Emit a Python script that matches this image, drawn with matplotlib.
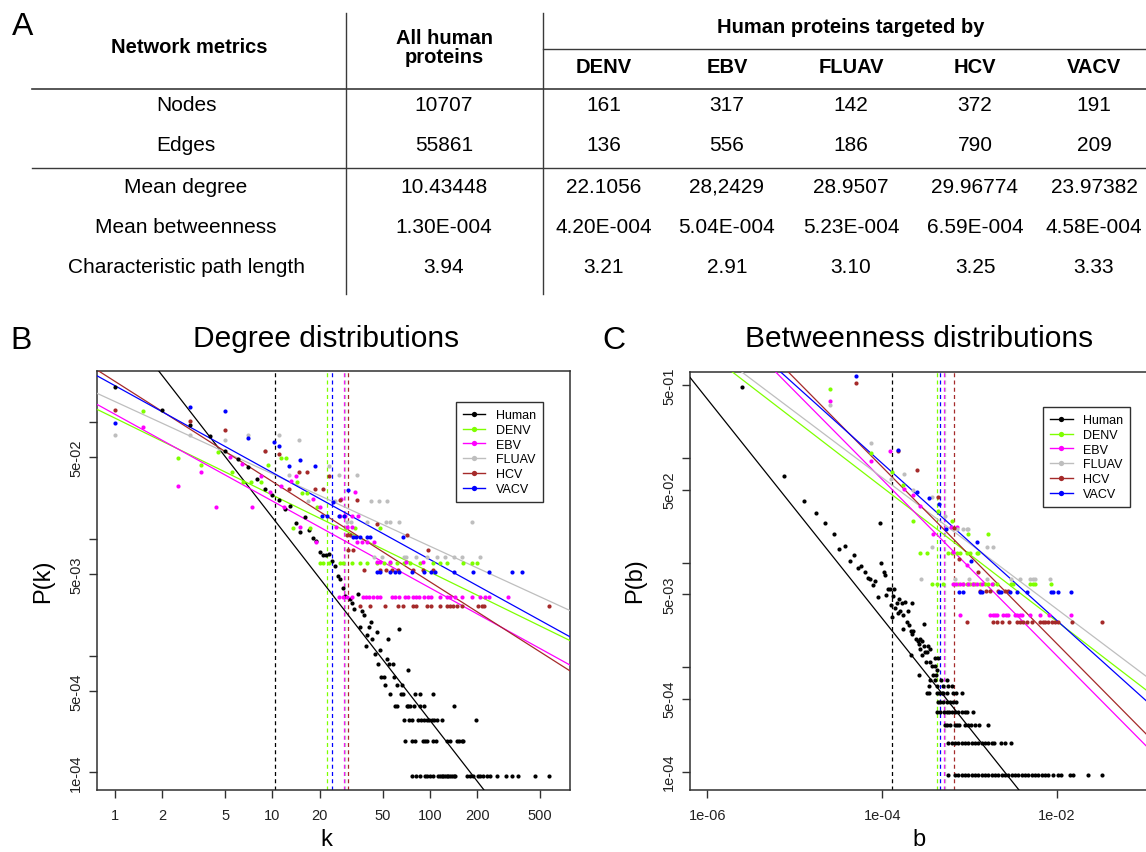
import numpy as np
import matplotlib
matplotlib.use("Agg")
import matplotlib.pyplot as plt
from matplotlib.lines import Line2D
from matplotlib.ticker import NullLocator

plt.rcParams['font.family'] = ['Liberation Sans', 'DejaVu Sans']

W, H = 1146, 853

# ------------------------------------------------------------------ table (A)
metric_names = ["Nodes", "Edges", "Mean degree", "Mean betweenness",
                "Characteristic path length"]
all_human_col = ["10707", "55861", "10.43448", "1.30E-004", "3.94"]
virus_names = ["DENV", "EBV", "FLUAV", "HCV", "VACV"]
denv_col = ["161", "136", "22.1056", "4.20E-004", "3.21"]
ebv_col = ["317", "556", "28,2429", "5.04E-004", "2.91"]
fluav_col = ["142", "186", "28.9507", "5.23E-004", "3.10"]
hcv_col = ["372", "790", "29.96774", "6.59E-004", "3.25"]
vacv_col = ["191", "209", "23.97382", "4.58E-004", "3.33"]

# ------------------------------------------------------------ distributions
series_names = ["Human", "DENV", "EBV", "FLUAV", "HCV", "VACV"]
series_colors = ["#000000", "#7FFF00", "#FF00FF", "#BEBEBE", "#A52A2A", "#0000FF"]
node_counts = [10707, 161, 317, 142, 372, 191]
mean_degree = [10.43448, 22.1056, 28.2429, 28.9507, 29.96774, 23.97382]
mean_betweenness = [1.30e-4, 4.20e-4, 5.04e-4, 5.23e-4, 6.59e-4, 4.58e-4]

# power-law fits: log10(P) = icpt + slope * log10(x)
deg_fit_slope = [-1.739, -0.660, -0.744, -0.620, -0.859, -0.745]
deg_fit_icpt = [-0.077, -0.964, -0.931, -0.822, -0.649, -0.686]
bet_fit_slope = [-1.050, -0.6435, -0.845, -0.630, -0.847, -0.753]
bet_fit_icpt = [-6.735, -3.851, -4.584, -3.706, -4.472, -4.061]

# degree points: (k, number of proteins) ; rows: {number: [k, ...]}
deg_human_pts = [(1, 2160), (2, 1363), (3, 1015), (4, 818), (5, 612), (6, 516), (7, 440),
                 (8, 350), (9, 287), (10, 255), (11, 231), (12, 194), (13, 206), (14, 148),
                 (15, 124), (16, 164), (17, 129), (18, 109), (19, 103), (20, 83), (21, 78),
                 (22, 78), (23, 80), (24, 69), (25, 63), (26, 52), (27, 49), (28, 41),
                 (29, 35), (31, 33), (32, 30), (33, 27), (35, 36), (36, 19), (37, 26),
                 (38, 24), (39, 13), (40, 16), (41, 19), (42, 21), (43, 15), (45, 11),
                 (46, 17), (47, 9), (48, 12), (49, 7), (51, 7), (53, 10), (54, 15), (55, 9),
                 (58, 9), (59, 7), (64, 18), (72, 8)]
deg_human_rows = {
    6: [52, 62, 66],
    5: [56, 65, 67, 80, 87, 104],
    4: [60, 62, 71, 73, 75, 79, 87, 91, 143],
    3: [68, 74, 77, 84, 88, 91, 96, 99, 103, 106, 110, 119, 195],
    2: [69, 77, 80, 90, 93, 96, 104, 109, 128, 133, 148, 153, 159, 163],
    1: [77, 82, 87, 93, 96, 100, 104, 113, 116, 119, 121, 125, 128, 131, 134, 137, 141,
        144, 171, 180, 187, 201, 208, 216, 229, 240, 267, 304, 330, 360, 461, 572],
}
deg_denv_pts = [(1.5, 20), (2.5, 8), (3.5, 7), (4.5, 9), (5.5, 6), (6.5, 5), (7.3, 5),
                (8.4, 5), (9.3, 7), (11.3, 8), (12.2, 8), (14.3, 5), (13.4, 2), (15.5, 4),
                (16.5, 4), (17.2, 2), (19.3, 3)]
deg_denv_rows = {
    2: [29.5, 33.5, 48],
    1: [20, 21, 23, 27, 28, 32, 36, 40, 46, 51, 56, 62, 68, 75, 86, 104, 115, 128, 161,
        184, 198],
}
deg_ebv_pts = [(1.5, 29), (2.5, 9), (3.5, 12), (4.4, 6), (5.4, 16), (6.4, 14), (7.4, 6),
               (8.4, 11), (9.6, 8), (11.3, 9), (11.8, 6), (13.2, 10), (14.1, 11), (14.9, 4),
               (18.1, 7), (20, 6), (18.9, 3), (25.3, 4), (27.2, 7), (33.5, 8)]
deg_ebv_rows = {
    5: [26.8, 28.9, 31.8, 35],
    4: [29.6, 31.8],
    3: [34.2, 36.8, 40, 44],
    2: [45.9, 48.2, 55.7, 70.4, 90.7],
    1: [26.6, 28.2, 29.6, 31.8, 37.4, 39.3, 41.2, 43.3, 45.9, 48.2, 57.1, 60, 63.8, 69.4,
        72.8, 77.6, 81.5, 85.5, 91.6, 97.5, 102, 116, 128, 134, 144, 159, 184, 208, 223,
        238, 315],
}
deg_fluav_pts = [(1, 11), (3, 11), (5, 10), (7, 11), (9, 8), (11, 11), (12.8, 5),
                 (14.8, 10), (16.9, 3), (22.7, 6), (24.9, 3), (26.6, 5), (34.5, 5)]
deg_fluav_rows = {
    3: [42, 47.7, 53.6],
    2: [29.6, 31.4, 39.6, 52.6, 55.7, 63.6, 184],
    1: [44, 49.3, 68.4, 70.4, 81.5, 95.3, 110, 125, 141, 159, 208],
}
deg_hcv_pts = [(1, 47), (3, 38), (5, 32), (9, 21), (11, 20), (12.7, 10), (14.8, 14),
               (16.6, 14), (18.6, 10), (20.8, 10), (22.9, 13), (26.8, 8), (34.6, 8), (46, 5)]
deg_hcv_rows = {
    4: [29.6, 31.2, 71],
    3: [30.3, 32.4, 97.8],
    2: [38.2, 48.2, 52.9, 57.1, 63, 78.3, 90.8, 105],
    1: [35.9, 41.6, 51.8, 62.9, 67.1, 78.3, 81.5, 95.3, 102, 115, 128, 134, 140.6, 148,
        159, 203, 213, 220, 572],
}
deg_vacv_pts = [(1, 19), (3, 26), (5, 24), (7, 14), (10.2, 13), (11, 12), (12.8, 8),
                (15, 9), (18.6, 8), (24.3, 4), (30.3, 5)]
deg_vacv_rows = {
    3: [20.5, 22.1, 26.6, 28.3],
    2: [32.3, 33.8, 35.9, 40, 41.7, 67.8],
    1: [46, 48, 56, 60, 64, 77, 91, 102, 108, 141, 188, 238, 332, 381],
}

# betweenness points: (b, number of proteins) ; rows: {number: [b, ...]}
bet_human_pts = [(2.50e-6, 5195), (7.45e-6, 724), (1.26e-5, 418), (1.74e-5, 323),
                 (2.23e-5, 257), (2.78e-5, 200), (3.22e-5, 144), (3.72e-5, 155),
                 (4.24e-5, 111), (4.71e-5, 126), (5.24e-5, 96), (5.75e-5, 99),
                 (6.30e-5, 87), (6.81e-5, 77), (7.29e-5, 74), (8.18e-5, 72), (7.76e-5, 65),
                 (9.33e-5, 259), (9.75e-5, 106), (1.04e-4, 87), (1.08e-4, 82),
                 (1.16e-4, 60), (1.24e-4, 60), (1.37e-4, 60), (8.85e-5, 50), (1.11e-4, 53),
                 (1.32e-4, 51), (1.57e-4, 48), (1.25e-4, 42), (1.46e-4, 44), (1.67e-4, 44),
                 (1.82e-4, 45), (2.17e-4, 44), (1.40e-4, 39), (1.60e-4, 37), (1.99e-4, 37),
                 (1.28e-4, 32), (1.52e-4, 35), (1.74e-4, 34), (1.90e-4, 29), (2.04e-4, 27),
                 (3.00e-4, 28), (1.74e-4, 25), (2.11e-4, 24), (2.26e-4, 24), (2.17e-4, 22),
                 (2.43e-4, 20), (2.58e-4, 19), (2.70e-4, 20), (2.63e-4, 18), (2.82e-4, 19),
                 (3.00e-4, 17), (3.36e-4, 17), (2.70e-4, 16), (3.08e-4, 15), (3.52e-4, 16),
                 (2.82e-4, 14), (3.22e-4, 15), (2.11e-4, 14), (3.16e-4, 12), (3.52e-4, 12),
                 (4.01e-4, 13), (4.38e-4, 13), (3.67e-4, 11), (4.01e-4, 11), (4.26e-4, 10),
                 (2.63e-4, 9), (3.84e-4, 9), (4.11e-4, 9)]
bet_human_rows = {
    8: [3.52e-4, 4.01e-4, 4.66e-4, 5.46e-4],
    7: [3.45e-4, 4.26e-4, 4.99e-4, 5.69e-4, 6.22e-4],
    6: [3.22e-4, 3.45e-4, 4.19e-4, 4.49e-4, 4.79e-4, 4.99e-4, 5.55e-4, 6.49e-4, 6.97e-4,
        8.09e-4],
    5: [4.38e-4, 4.57e-4, 4.99e-4, 5.46e-4, 5.96e-4, 6.49e-4, 6.97e-4],
    4: [4.26e-4, 4.57e-4, 5.08e-4, 5.46e-4, 5.85e-4, 6.22e-4, 6.79e-4, 7.41e-4, 8.09e-4,
        8.83e-4, 9.40e-4, 1.08e-3],
    3: [5.21e-4, 5.55e-4, 5.96e-4, 6.79e-4, 7.21e-4, 7.60e-4, 8.83e-4, 9.64e-4, 1.03e-3,
        1.15e-3, 1.29e-3, 1.61e-3],
    2: [5.69e-4, 6.22e-4, 6.79e-4, 7.41e-4, 8.09e-4, 8.83e-4, 9.64e-4, 1.05e-3, 1.15e-3,
        1.25e-3, 1.37e-3, 1.50e-3, 1.63e-3, 1.79e-3, 1.90e-3, 2.26e-3, 2.54e-3, 2.94e-3],
    1: [5.69e-4, 6.79e-4, 7.41e-4, 8.09e-4, 8.83e-4, 9.64e-4, 1.05e-3, 1.15e-3, 1.25e-3,
        1.37e-3, 1.50e-3, 1.63e-3, 1.79e-3, 1.95e-3, 2.12e-3, 2.32e-3, 2.54e-3, 2.77e-3,
        3.03e-3, 3.30e-3, 3.60e-3, 3.94e-3, 4.30e-3, 4.68e-3, 5.12e-3, 5.58e-3, 6.10e-3,
        6.67e-3, 7.28e-3, 7.93e-3, 9.06e-3, 1.03e-2, 1.10e-2, 1.41e-2, 1.53e-2, 2.28e-2,
        3.29e-2],
}
bet_denv_pts = [(2.50e-5, 75), (7.48e-5, 18), (1.28e-4, 12), (1.73e-4, 9), (2.24e-4, 4),
                (4.38e-4, 5), (6.22e-4, 4)]
bet_denv_rows = {
    3: [9.5e-4, 1.6e-3],
    2: [2.70e-4, 3.22e-4, 5.69e-4, 6.22e-4, 7.21e-4, 7.74e-4, 9.25e-4, 1.01e-3, 1.20e-3,
        1.25e-3],
    1: [3.67e-4, 4.19e-4, 4.99e-4, 6.61e-4, 7.41e-4, 8.32e-4, 9.40e-4, 1.01e-3, 1.08e-3,
        1.15e-3, 1.31e-3, 1.50e-3, 1.63e-3, 1.86e-3, 2.04e-3, 2.94e-3, 3.16e-3, 4.90e-3,
        5.35e-3, 5.58e-3, 8.45e-3],
}
bet_ebv_pts = [(2.50e-5, 112), (7.48e-5, 30), (1.24e-4, 37), (1.76e-4, 16), (2.24e-4, 14),
               (2.72e-4, 11), (3.84e-4, 6), (6.07e-4, 7), (7.21e-4, 7), (6.49e-4, 4),
               (9.25e-4, 3)]
bet_ebv_rows = {
    2: [6.38e-4, 6.97e-4, 7.74e-4, 8.45e-4, 9.64e-4, 1.10e-3, 1.22e-3, 1.37e-3, 1.79e-3],
    1: [7.74e-4, 1.71e-3, 1.83e-3, 1.95e-3, 2.07e-3, 2.42e-3, 2.60e-3, 2.77e-3, 3.30e-3,
        3.51e-3, 3.77e-3, 3.94e-3, 4.90e-3, 6.37e-3, 8.15e-3, 1.43e-2],
}
bet_fluav_pts = [(2.50e-5, 46), (7.48e-5, 20), (1.27e-4, 9), (1.76e-4, 10), (2.24e-4, 7),
                 (3.67e-4, 6), (5.21e-4, 4)]
bet_fluav_rows = {
    3: [7.21e-4, 8.32e-4, 9.25e-4, 9.64e-4],
    2: [3.67e-4, 1.56e-3, 1.83e-3],
    1: [2.75e-4, 6.79e-4, 9.89e-4, 1.59e-3, 2.94e-3, 3.77e-3, 4.90e-3, 5.26e-3, 5.58e-3,
        8.30e-3],
}
bet_hcv_pts = [(5.0e-5, 197), (1.50e-4, 44), (2.49e-4, 29), (4.38e-4, 16), (6.61e-4, 8),
               (7.55e-4, 4), (1.25e-3, 3)]
bet_hcv_rows = {
    2: [1.31e-3, 1.53e-3, 1.71e-3, 2.12e-3, 2.54e-3, 2.77e-3],
    1: [9.40e-4, 1.83e-3, 2.04e-3, 2.32e-3, 2.84e-3, 3.45e-3, 3.77e-3, 4.10e-3, 4.49e-3,
        5.12e-3, 6.37e-3, 6.84e-3, 7.28e-3, 7.93e-3, 8.67e-3, 9.46e-3, 1.03e-2, 1.47e-2,
        3.29e-2],
}
bet_vacv_pts = [(5.0e-5, 117), (1.50e-4, 23), (2.49e-4, 9), (3.45e-4, 8), (4.49e-4, 7),
                (5.36e-4, 4), (1.22e-3, 3), (1.03e-3, 2)]
bet_vacv_rows = {
    1: [7.55e-4, 8.32e-4, 1.31e-3, 1.37e-3, 2.18e-3, 2.26e-3, 2.89e-3, 3.45e-3, 4.49e-3,
        8.45e-3, 9.06e-3, 1.03e-2, 1.43e-2],
}

deg_series = [(deg_human_pts, deg_human_rows), (deg_denv_pts, deg_denv_rows),
              (deg_ebv_pts, deg_ebv_rows), (deg_fluav_pts, deg_fluav_rows),
              (deg_hcv_pts, deg_hcv_rows), (deg_vacv_pts, deg_vacv_rows)]
bet_series = [(bet_human_pts, bet_human_rows), (bet_denv_pts, bet_denv_rows),
              (bet_ebv_pts, bet_ebv_rows), (bet_fluav_pts, bet_fluav_rows),
              (bet_hcv_pts, bet_hcv_rows), (bet_vacv_pts, bet_vacv_rows)]


def collect(pts, rows):
    xs = [p[0] for p in pts]
    ns = [p[1] for p in pts]
    for n, xl in rows.items():
        xs += list(xl)
        ns += [n] * len(xl)
    return np.array(xs, float), np.array(ns, float)


fig = plt.figure(figsize=(W / 100, H / 100), dpi=100)

# overlay axes in pixel coordinates for the table and free text
tab = fig.add_axes([0, 0, 1, 1])
tab.set_xlim(0, W)
tab.set_ylim(H, 0)
tab.axis('off')

LC = '#3a3a3a'
FS = 15
col_x = [186, 444, 604, 727, 851, 975, 1094]
row_y = [105, 145, 187, 227, 267]

tab.text(23, 27, 'A', fontsize=23, ha='center', va='center')
tab.text(col_x[0] + 3, 47, 'Network metrics', fontsize=14.5, weight='bold', ha='center', va='center')
tab.text(col_x[1], 38, 'All human', fontsize=14.5, weight='bold', ha='center', va='center')
tab.text(col_x[1], 57, 'proteins', fontsize=14.5, weight='bold', ha='center', va='center')
tab.text(col_x[4], 27, 'Human proteins targeted by', fontsize=14.5, weight='bold',
         ha='center', va='center')
for x, name in zip(col_x[2:], virus_names):
    tab.text(x, 67, name, fontsize=14.5, weight='bold', ha='center', va='center')

columns = [metric_names, all_human_col, denv_col, ebv_col, fluav_col, hcv_col, vacv_col]
for x, col in zip(col_x, columns):
    for y, val in zip(row_y, col):
        tab.text(x, y, val, fontsize=FS, ha='center', va='center')

tab.plot([346, 346], [14, 295], color=LC, lw=1.0)
tab.plot([542.5, 542.5], [14, 295], color=LC, lw=1.0)
tab.plot([542.5, W + 5], [50, 50], color=LC, lw=1.0)
tab.plot([32, W + 5], [89.5, 89.5], color=LC, lw=1.2)
tab.plot([32, W + 5], [169, 169], color=LC, lw=1.0)

# panel letters, titles and axis labels
tab.text(21, 341, 'B', fontsize=23, ha='center', va='center')
tab.text(614, 341, 'C', fontsize=23, ha='center', va='center')
tab.text(326, 339, 'Degree distributions', fontsize=21.5, ha='center', va='center')
tab.text(919, 339, 'Betweenness distributions', fontsize=21.5, ha='center', va='center')
tab.text(326, 840, 'k', fontsize=17, ha='center', va='center')
tab.text(919, 840, 'b', fontsize=17, ha='center', va='center')
tab.text(43, 581, 'P(k)', fontsize=17, rotation=90, ha='center', va='center')
tab.text(635, 581, 'P(b)', fontsize=17, rotation=90, ha='center', va='center')

axB = fig.add_axes([97 / W, 1 - 791 / H, 473 / W, 419 / H])
axC = fig.add_axes([690 / W, 1 - 791 / H, 458 / W, 418 / H])

panels = [
    (axB, deg_series, mean_degree, deg_fit_slope, deg_fit_icpt,
     (0.769, 774), (7.06e-5, 0.2754), (456, 403.3)),
    (axC, bet_series, mean_betweenness, bet_fit_slope, bet_fit_icpt,
     (6.31e-7, 0.1096), (6.65e-5, 0.671), (1043.3, 408.3)),
]

for ax, data, means, slopes, icpts, xlim, ylim, leg_px in panels:
    ax.set_xscale('log')
    ax.set_yscale('log')
    ax.set_xlim(*xlim)
    ax.set_ylim(*ylim)
    xx = np.array(xlim)
    for i, (pts, rows) in enumerate(data):
        c = series_colors[i]
        xs, ns = collect(pts, rows)
        ax.scatter(xs, ns / node_counts[i], s=9, color=c, linewidths=0, zorder=4)
        ax.plot(xx, 10 ** (icpts[i] + slopes[i] * np.log10(xx)), color=c, lw=0.9, zorder=3)
        ax.axvline(means[i], color=c, lw=0.9, ls=(0, (3.2, 2.6)), zorder=2)
    ax.set_xlim(*xlim)
    ax.set_ylim(*ylim)
    ax.xaxis.set_minor_locator(NullLocator())
    ax.yaxis.set_minor_locator(NullLocator())
    for sp in ax.spines.values():
        sp.set_color('#303030')
        sp.set_linewidth(1.1)
    ax.tick_params(which='major', direction='out', length=6, width=1.0, color='#303030',
                   labelsize=10.5, labelcolor='#222222')
    ax.tick_params(axis='x', pad=7)
    ax.tick_params(axis='y', pad=4)
    handles = [Line2D([], [], color=c, lw=1.0, marker='o', markersize=3.8,
                      markeredgewidth=0) for c in series_colors]
    bx0, by0 = ax.get_position().x0 * W, (1 - ax.get_position().y1) * H
    bw, bh = ax.get_position().width * W, ax.get_position().height * H
    leg = ax.legend(handles, series_names, loc='upper left',
                    bbox_to_anchor=((leg_px[0] - bx0) / bw, 1 - (leg_px[1] - by0) / bh),
                    borderaxespad=0, frameon=True, fancybox=False, framealpha=1,
                    edgecolor='#303030', fontsize=9, handlelength=1.8,
                    handletextpad=0.85, labelspacing=0.22, borderpad=0.55, numpoints=1)
    leg.get_frame().set_linewidth(1.0)

axB.set_xticks([1, 2, 5, 10, 20, 50, 100, 200, 500],
               ['1', '2', '5', '10', '20', '50', '100', '200', '500'])
axB.set_yticks([1e-4, 5e-4, 1e-3, 5e-3, 1e-2, 5e-2, 1e-1],
               ['1e-04', '5e-04', '', '5e-03', '', '5e-02', ''], rotation=90, va='center')
axC.set_xticks([1e-6, 1e-4, 1e-2], ['1e-06', '1e-04', '1e-02'])
axC.set_yticks([1e-4, 5e-4, 1e-3, 5e-3, 1e-2, 5e-2, 1e-1, 5e-1],
               ['1e-04', '5e-04', '', '5e-03', '', '5e-02', '', '5e-01'],
               rotation=90, va='center')

fig.savefig('out.png', dpi=100)
